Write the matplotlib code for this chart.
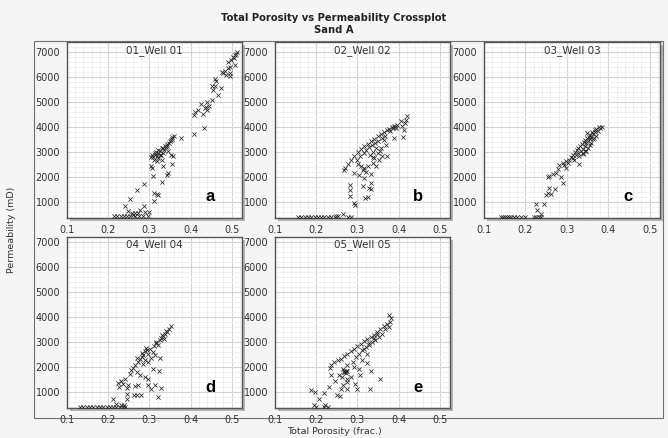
import matplotlib.pyplot as plt
from matplotlib.patches import Rectangle
from matplotlib.ticker import MultipleLocator, AutoMinorLocator

wells = ['01_Well 01', '02_Well 02', '03_Well 03', '04_Well 04', '05_Well 05']
letters = ['a', 'b', 'c', 'd', 'e']

por_w1 = [0.514, 0.507, 0.503, 0.498, 0.491, 0.509, 0.491, 0.483, 0.477, 0.495, 0.487, 0.497,
          0.459, 0.463, 0.451, 0.459, 0.475, 0.467, 0.453, 0.441, 0.425, 0.435, 0.439, 0.419,
          0.410, 0.408, 0.431, 0.433, 0.408, 0.377, 0.360, 0.354, 0.350, 0.344, 0.338, 0.330,
          0.322, 0.314, 0.307, 0.310, 0.318, 0.326, 0.334, 0.346, 0.342, 0.334, 0.358, 0.330,
          0.318, 0.304, 0.307, 0.334, 0.354, 0.346, 0.342, 0.310, 0.330, 0.288, 0.269, 0.311,
          0.319, 0.322, 0.311, 0.253, 0.241, 0.288, 0.277, 0.298, 0.290, 0.272, 0.265, 0.257,
          0.249, 0.215, 0.222, 0.230, 0.238, 0.245, 0.252, 0.260, 0.266, 0.276, 0.284, 0.297,
          0.316, 0.321, 0.327, 0.336, 0.340, 0.348, 0.352, 0.356, 0.313, 0.305, 0.329, 0.352,
          0.312, 0.320, 0.495, 0.506, 0.511, 0.480, 0.455, 0.438, 0.446]
perm_w1 = [6990, 6890, 6800, 6700, 6590, 6490, 6360, 6230, 6190, 6160, 6090, 6030,
           5920, 5830, 5650, 5650, 5560, 5290, 5070, 4990, 4930, 4760, 4670, 4690,
           4590, 4490, 4530, 3960, 3720, 3550, 3650, 3520, 3430, 3330, 3250, 3160,
           3090, 2960, 2890, 2800, 2830, 2890, 2960, 3030, 3230, 3160, 2830, 2700,
           2630, 2430, 2360, 2430, 2530, 2160, 2070, 2050, 1790, 1730, 1490, 1360,
           1330, 1290, 1030, 1120, 850, 830, 690, 590, 590, 560, 560, 560,
           630, 420, 420, 420, 430, 440, 450, 460, 420, 420, 420, 420,
           3020, 2950, 3050, 3100, 3200, 3380, 3470, 3600, 2880, 2800, 2870, 2900,
           2700, 2760, 6400, 6780, 6920, 6150, 5480, 4820, 4850]

por_w2 = [0.420, 0.417, 0.415, 0.409, 0.413, 0.405, 0.397, 0.389, 0.385, 0.377, 0.373, 0.365,
          0.357, 0.349, 0.341, 0.333, 0.325, 0.317, 0.309, 0.301, 0.293, 0.285, 0.277, 0.269,
          0.267, 0.410, 0.389, 0.365, 0.369, 0.357, 0.349, 0.361, 0.372, 0.341, 0.353, 0.337,
          0.345, 0.325, 0.317, 0.309, 0.301, 0.313, 0.321, 0.333, 0.305, 0.293, 0.317, 0.333,
          0.313, 0.329, 0.333, 0.283, 0.281, 0.281, 0.326, 0.318, 0.293, 0.295, 0.265, 0.253,
          0.249, 0.156, 0.164, 0.172, 0.180, 0.188, 0.196, 0.204, 0.212, 0.220, 0.228, 0.236,
          0.245, 0.277, 0.285, 0.322, 0.328, 0.335, 0.343, 0.351, 0.359, 0.367, 0.380, 0.387,
          0.392, 0.393, 0.338, 0.346, 0.355, 0.315, 0.306, 0.298, 0.330, 0.339]
perm_w2 = [4430, 4290, 4160, 4050, 3890, 4230, 4090, 4050, 4000, 3920, 3870, 3790,
           3730, 3630, 3520, 3430, 3330, 3230, 3120, 2990, 2830, 2690, 2530, 2360,
           2270, 3600, 3560, 3490, 3290, 3160, 2960, 2850, 2830, 2760, 2670, 2560,
           2430, 2430, 2360, 2450, 2530, 2270, 2190, 2130, 2090, 2160, 1960, 1760,
           1630, 1560, 1520, 1690, 1490, 1250, 1200, 1160, 960, 890, 530, 450,
           430, 390, 400, 390, 400, 390, 390, 400, 390, 400, 390, 390,
           400, 390, 390, 3100, 3200, 3280, 3350, 3450, 3550, 3650, 3850, 3950,
           4010, 3950, 3000, 3150, 3050, 2950, 2850, 2700, 2900, 2800]

por_w3 = [0.385, 0.379, 0.371, 0.375, 0.367, 0.363, 0.371, 0.359, 0.355, 0.363, 0.351, 0.359,
          0.347, 0.355, 0.343, 0.351, 0.338, 0.347, 0.334, 0.326, 0.338, 0.322, 0.330, 0.314,
          0.306, 0.318, 0.298, 0.290, 0.302, 0.294, 0.282, 0.298, 0.329, 0.348, 0.278, 0.258,
          0.254, 0.266, 0.274, 0.286, 0.290, 0.272, 0.256, 0.254, 0.262, 0.250, 0.225, 0.246,
          0.229, 0.237, 0.140, 0.146, 0.151, 0.156, 0.160, 0.165, 0.172, 0.180, 0.190, 0.200,
          0.220, 0.226, 0.232, 0.237, 0.367, 0.361, 0.357, 0.353, 0.349, 0.345, 0.341, 0.337,
          0.333, 0.328, 0.324, 0.320, 0.316, 0.310, 0.377, 0.365, 0.343, 0.339]
perm_w3 = [4010, 3970, 3930, 3840, 3800, 3710, 3640, 3610, 3530, 3510, 3440, 3370,
           3350, 3270, 3240, 3170, 3130, 3040, 3040, 2970, 2910, 2870, 2840, 2770,
           2680, 2680, 2640, 2570, 2550, 2470, 2490, 2370, 2510, 3750, 2310, 2040,
           2010, 2110, 2150, 2010, 1750, 1530, 1570, 1370, 1310, 1270, 910, 910,
           680, 510, 390, 380, 390, 400, 380, 390, 380, 390, 380, 380,
           390, 380, 400, 390, 3900, 3820, 3680, 3620, 3560, 3490, 3400, 3320,
           3230, 3160, 3080, 2990, 2900, 2800, 3990, 3560, 3050, 2960]

por_w4 = [0.353, 0.347, 0.341, 0.337, 0.333, 0.329, 0.335, 0.325, 0.317, 0.321, 0.311, 0.301,
          0.295, 0.289, 0.309, 0.297, 0.285, 0.313, 0.281, 0.305, 0.325, 0.277, 0.289, 0.297,
          0.273, 0.266, 0.285, 0.309, 0.323, 0.261, 0.255, 0.269, 0.253, 0.277, 0.289, 0.297,
          0.241, 0.231, 0.237, 0.225, 0.249, 0.227, 0.245, 0.265, 0.273, 0.297, 0.313, 0.303,
          0.329, 0.263, 0.271, 0.279, 0.321, 0.246, 0.246, 0.212, 0.220, 0.231, 0.239, 0.242,
          0.132, 0.140, 0.148, 0.156, 0.164, 0.172, 0.180, 0.188, 0.196, 0.204, 0.212, 0.220,
          0.228, 0.237, 0.343, 0.330, 0.315, 0.293, 0.283, 0.270]
perm_w4 = [3630, 3530, 3430, 3330, 3240, 3160, 3130, 3070, 3000, 2890, 2840, 2730,
           2670, 2630, 2600, 2530, 2490, 2470, 2400, 2360, 2360, 2310, 2270, 2200,
           2200, 2090, 2130, 1930, 1840, 1960, 1870, 1800, 1730, 1670, 1600, 1510,
           1530, 1430, 1330, 1370, 1290, 1200, 1160, 1240, 1270, 1270, 1270, 1130,
           1160, 890, 890, 890, 800, 930, 730, 700, 530, 470, 490, 400,
           380, 380, 390, 380, 390, 380, 380, 390, 380, 390, 380, 390,
           380, 390, 3380, 3280, 2950, 2750, 2560, 2350]

por_w5 = [0.378, 0.382, 0.380, 0.372, 0.376, 0.364, 0.356, 0.368, 0.348, 0.360, 0.340, 0.352,
          0.332, 0.324, 0.344, 0.336, 0.316, 0.308, 0.328, 0.300, 0.320, 0.292, 0.312, 0.284,
          0.304, 0.324, 0.276, 0.268, 0.260, 0.252, 0.244, 0.236, 0.234, 0.296, 0.312, 0.324,
          0.290, 0.276, 0.292, 0.304, 0.264, 0.272, 0.268, 0.334, 0.306, 0.284, 0.262, 0.256,
          0.236, 0.246, 0.274, 0.276, 0.264, 0.294, 0.354, 0.232, 0.260, 0.276, 0.300, 0.330,
          0.188, 0.198, 0.220, 0.250, 0.258, 0.206, 0.194, 0.200, 0.220, 0.228, 0.222, 0.270,
          0.272, 0.274, 0.268, 0.340, 0.348, 0.316, 0.328]
perm_w5 = [4070, 3930, 3800, 3730, 3600, 3640, 3530, 3510, 3400, 3330, 3290, 3200,
           3200, 3130, 3070, 3000, 3030, 2930, 2890, 2840, 2800, 2730, 2670, 2630,
           2530, 2530, 2530, 2440, 2330, 2270, 2200, 2090, 1960, 2400, 2270, 2170,
           2200, 2070, 2000, 1910, 1910, 1840, 1780, 1840, 1670, 1600, 1600, 1690,
           1670, 1430, 1510, 1400, 1290, 1330, 1530, 1200, 1130, 1130, 1110, 1110,
           1070, 1000, 970, 890, 840, 710, 470, 400, 400, 400, 490, 1800,
           1760, 1820, 1850, 3150, 3300, 2700, 2950]

porosity = [por_w1, por_w2, por_w3, por_w4, por_w5]
permeability = [perm_w1, perm_w2, perm_w3, perm_w4, perm_w5]

# ---- figure ----
W, H = 668, 438
fig = plt.figure(figsize=(W / 100, H / 100), dpi=100, facecolor='#f5f5f5')

def fx(px):
    return px / W

def fy(py):
    return 1 - py / H

# outer frame round the panel area
fig.patches.append(Rectangle((fx(34), fy(418)), fx(663) - fx(34), fy(41) - fy(418),
                             transform=fig.transFigure, facecolor='#f5f5f5',
                             edgecolor='#707070', lw=0.8, zorder=-2))

# axes boxes in pixels (left, top, right, bottom)
boxes = [(67, 42, 242, 218), (275, 42, 450, 218), (484, 42, 660, 218),
         (67, 237, 242, 408), (275, 237, 450, 408)]
ylims = [(360, 7400)] * 3 + [(360, 7180)] * 2

for i, (l, t, r, b) in enumerate(boxes):
    # drop shadow
    fig.patches.append(Rectangle((fx(l + 3), fy(b + 3)), fx(r) - fx(l), fy(t) - fy(b),
                                 transform=fig.transFigure, facecolor='#b5b5b5',
                                 edgecolor='none', zorder=-1))
    ax = fig.add_axes([fx(l), fy(b), fx(r) - fx(l), fy(t) - fy(b)])
    ax.set_zorder(1)
    ax.set_facecolor('white')
    ax.scatter(porosity[i], permeability[i], marker='x', s=9, linewidths=0.55,
               color='#262626', zorder=3)
    ax.set_xlim(0.1, 0.525)
    ax.set_ylim(*ylims[i])
    ax.xaxis.set_major_locator(MultipleLocator(0.1))
    ax.yaxis.set_major_locator(MultipleLocator(1000))
    ax.xaxis.set_minor_locator(AutoMinorLocator(5))
    ax.yaxis.set_minor_locator(AutoMinorLocator(5))
    ax.set_yticks([1000, 2000, 3000, 4000, 5000, 6000, 7000])
    ax.set_xticks([0.1, 0.2, 0.3, 0.4, 0.5])
    ax.set_xticklabels(['0.1', '0.2', '0.3', '0.4', '0.5'])
    ax.grid(which='major', color='#d4d4d4', lw=0.8)
    ax.grid(which='minor', color='#ececec', lw=0.5)
    ax.set_axisbelow(True)
    ax.tick_params(which='both', length=0, labelsize=7, labelcolor='#333333', pad=5)
    for s in ax.spines.values():
        s.set_color('#555555')
        s.set_linewidth(1.0)
    ax.text(0.5, 0.985, wells[i], transform=ax.transAxes, ha='center', va='top',
            fontsize=7.5, color='#333333')
    ax.text(0.82, 0.12, letters[i], transform=ax.transAxes, ha='center', va='center',
            fontsize=12, fontweight='bold', family='Liberation Sans', color='black')

fig.text(0.5, fy(18), 'Total Porosity vs Permeability Crossplot', ha='center', va='center',
         fontsize=7.2, fontweight='bold', color='#222222')
fig.text(0.5, fy(30), 'Sand A', ha='center', va='center', fontsize=7.2,
         fontweight='bold', color='#222222')
fig.text(fx(12), fy(230), 'Permeability (mD)', rotation=90, ha='center', va='center',
         fontsize=6.8, color='#333333')
fig.text(0.5, fy(431), 'Total Porosity (frac.)', ha='center', va='center',
         fontsize=6.8, color='#333333')

fig.savefig('out.png', dpi=100, facecolor=fig.get_facecolor())
